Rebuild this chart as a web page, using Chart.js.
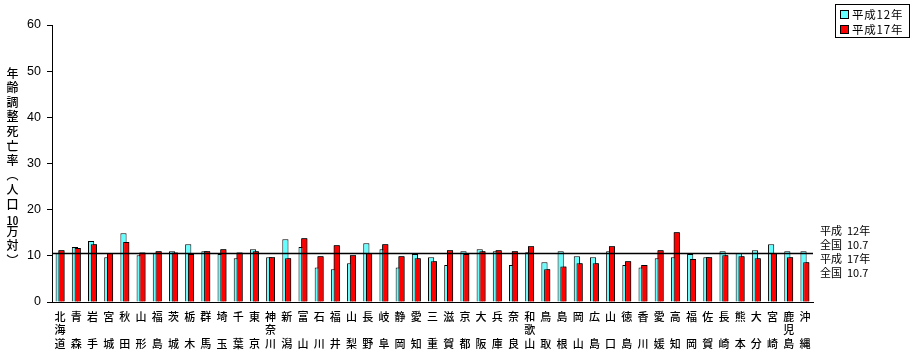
<!DOCTYPE html>
<html><head><meta charset="utf-8">
<script src="https://cdn.jsdelivr.net/npm/chart.js@4/dist/chart.umd.min.js"></script>
<style>
html,body{margin:0;padding:0;background:#fff;}
#wrap{position:relative;width:915px;height:356px;}
#c{position:absolute;left:0;top:0;}
.jp{font-family:"Noto Sans CJK JP","Noto Sans",sans-serif;color:#000;}
#ytitle{position:absolute;left:5px;top:67px;writing-mode:vertical-rl;font-size:12px;letter-spacing:2.6px;line-height:14px;font-weight:500;}
#ytitle .tcy{text-combine-upright:all;}
#legend{position:absolute;left:835px;top:4px;width:75px;height:34px;border:1px solid #000;font-size:11.5px;box-sizing:border-box;}
#legend div{position:absolute;left:4px;height:14px;line-height:14px;white-space:nowrap;letter-spacing:0.8px;}
#legend span.sw{display:inline-block;width:7px;height:7px;border:1px solid #000;margin-right:3px;vertical-align:0px;}
#note{position:absolute;left:820px;top:223px;font-size:11px;line-height:14px;white-space:pre;}
</style></head>
<body><div id="wrap"><canvas id="c" width="915" height="356"></canvas>
<div id="ytitle" class="jp">年齢調整死亡率（人口<span class="tcy">10</span>万対）</div>
<div id="legend" class="jp"><div style="top:2px"><span class="sw" style="background:#66ffff"></span>平成12年</div><div style="top:17px"><span class="sw" style="background:#ff0000"></span>平成17年</div></div>
<div id="note" class="jp">平成  12年
全国  10.7
平成  17年
全国  10.7</div>
</div>
<script>
const prefectures = ['北海道','青森','岩手','宮城','秋田','山形','福島','茨城','栃木','群馬','埼玉','千葉','東京','神奈川','新潟','富山','石川','福井','山梨','長野','岐阜','静岡','愛知','三重','滋賀','京都','大阪','兵庫','奈良','和歌山','鳥取','島根','岡山','広島','山口','徳島','香川','愛媛','高知','福岡','佐賀','長崎','熊本','大分','宮崎','鹿児島','沖縄'];
const h12 = [10.6,11.9,13.2,9.7,14.9,10.1,10.6,11.0,12.5,11.0,10.4,9.5,11.4,9.7,13.6,11.9,7.5,7.1,8.4,12.7,11.4,7.5,10.4,9.7,8.0,11.0,11.4,11.0,8.0,10.8,8.6,11.0,9.9,9.7,11.0,8.0,7.5,9.5,9.7,10.4,9.7,11.0,10.6,11.2,12.5,11.0,11.0];
const h17 = [11.2,11.7,12.5,10.6,13.0,10.7,11.0,10.7,10.4,11.0,11.4,10.7,11.0,9.7,9.5,13.8,9.9,12.3,10.1,10.6,12.5,9.9,9.5,8.8,11.2,10.4,11.0,11.2,11.0,12.1,7.1,7.7,8.4,8.4,12.1,8.8,8.0,11.2,15.1,9.3,9.7,10.1,9.9,9.5,10.6,9.7,8.6];
const nationalAvg = 10.7;
const yTicks = [0,10,20,30,40,50,60];

const labels = prefectures.map(p => p.length === 3 ? [p[0], p[1], p[2]] : [p[0], '', p[1]]);

const avgLine = {
  id: 'avgLine',
  afterDatasetsDraw(chart) {
    // red series drawn over cyan
    chart.getDatasetMeta(1).controller.draw();
    const {ctx, chartArea} = chart;
    const y = Math.round(chart.scales.y.getPixelForValue(nationalAvg)) + 0.5;
    ctx.save();
    ctx.strokeStyle = '#000';
    ctx.lineWidth = 1.3;
    ctx.beginPath();
    ctx.moveTo(chartArea.left, y);
    ctx.lineTo(chartArea.right, y);
    ctx.stroke();
    ctx.restore();
  }
};

new Chart(document.getElementById('c'), {
  type: 'bar',
  data: {
    labels: labels,
    datasets: [
      {label: '平成12年', data: h12, backgroundColor: '#66ffff', borderColor: '#000', borderWidth: 1, categoryPercentage: 0.34, barPercentage: 2.25},
      {label: '平成17年', data: h17, backgroundColor: '#ff0000', borderColor: '#000', borderWidth: 1, categoryPercentage: 0.34, barPercentage: 2.25}
    ]
  },
  options: {
    responsive: false,
    animation: false,
    layout: {padding: {left: 0, right: 102, top: 25, bottom: 0}},
    plugins: {legend: {display: false}, tooltip: {enabled: false}},
    scales: {
      x: {
        grid: {display: false, drawTicks: false},
        border: {color: '#000', width: 1},
        ticks: {color: '#000', autoSkip: false, maxRotation: 0, padding: 8,
          font: {family: '"Noto Sans CJK JP", sans-serif', size: 11, weight: '500', lineHeight: 1.23}},
        afterFit(s) { s.height = 54; }
      },
      y: {
        min: 0, max: 60,
        afterBuildTicks(s) { s.ticks = yTicks.map(v => ({value: v})); },
        grid: {drawOnChartArea: false, drawTicks: true, tickLength: 5, color: '#000'},
        border: {color: '#000', width: 1},
        ticks: {color: '#000', padding: 6, font: {family: '"Liberation Sans", Arial, sans-serif', size: 12.5}},
        afterFit(s) { s.width = 52; }
      }
    }
  },
  plugins: [avgLine]
});
</script></body></html>
